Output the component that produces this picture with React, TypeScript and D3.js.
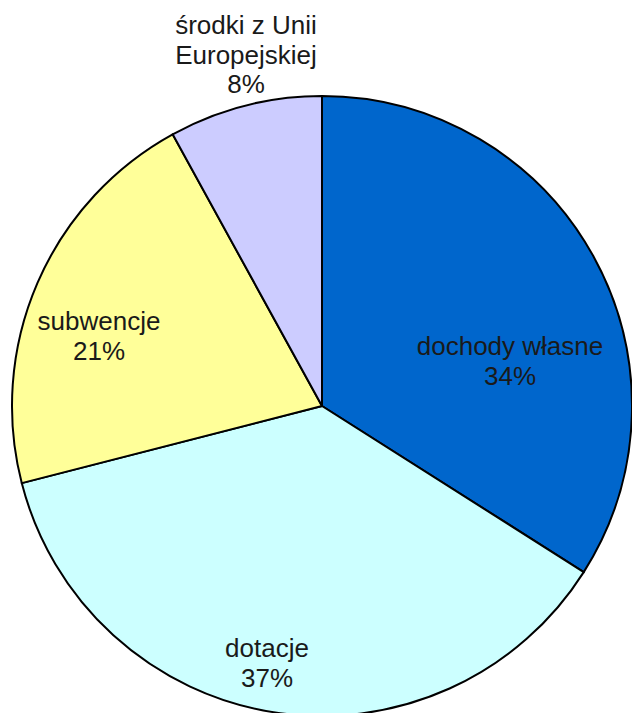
import React from "react";
import * as d3 from "d3";

const categories = ["dochody własne", "dotacje", "subwencje", "środki z Unii Europejskiej"];
const values = [34, 37, 21, 8];
const labelLines = [["dochody własne"], ["dotacje"], ["subwencje"], ["środki z Unii", "Europejskiej"]];
const colors = ["#0066CC", "#CCFFFF", "#FFFF99", "#CCCCFF"];

const W = 632;
const H = 713;
const cx = 322;
const cy = 406;
const R = 310;
const LINE = 29.5;
// label anchor offsets (first baseline) relative to pie centre
const labelOffsets: [number, number][] = [
  [188, -51],
  [-55, 251],
  [-223, -76],
  [-76, -372],
];

export default function App() {
  const pie = d3.pie<number>().sort(null).value((d) => d);
  const arcs = pie(values);
  const arc = d3.arc<d3.PieArcDatum<number>>().innerRadius(0).outerRadius(R);
  return (
    <svg
      width={W}
      height={H}
      style={{ position: "absolute", left: 0, top: 0, display: "block", background: "#fff" }}
    >
      <g transform={`translate(${cx},${cy})`}>
        {arcs.map((a, i) => (
          <path key={i} d={arc(a) || ""} fill={colors[i]} stroke="#000" strokeWidth={2} strokeLinejoin="round" />
        ))}
        {arcs.map((a, i) => {
          const [dx, dy] = labelOffsets[i];
          const lines = [...labelLines[i], `${values[i]}%`];
          return (
            <text
              key={"t" + i}
              x={dx}
              y={dy}
              textAnchor="middle"
              fontFamily="'Liberation Sans', Arial, sans-serif"
              fontSize={26}
              fill="#1a1a1a"
            >
              {lines.map((l, j) => (
                <tspan key={j} x={dx} y={dy + j * LINE}>
                  {l}
                </tspan>
              ))}
            </text>
          );
        })}
      </g>
    </svg>
  );
}
